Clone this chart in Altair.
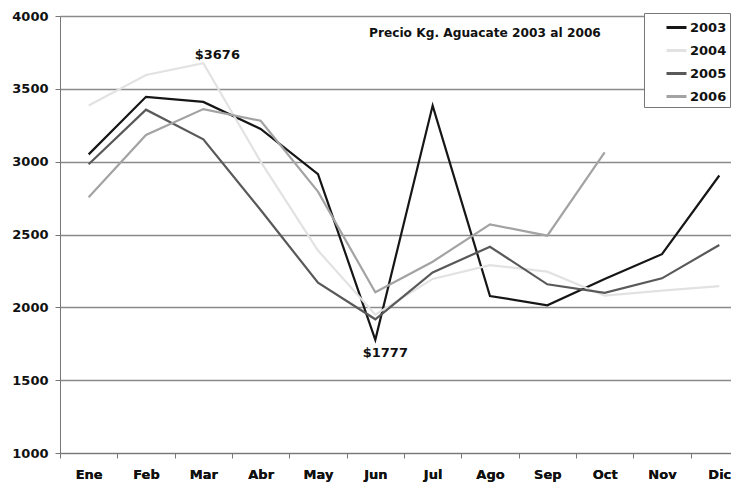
import altair as alt
import pandas as pd

months = ["Ene", "Feb", "Mar", "Abr", "May", "Jun", "Jul", "Ago", "Sep", "Oct", "Nov", "Dic"]
years = ["2003", "2004", "2005", "2006"]
v2003 = [3050, 3445, 3410, 3225, 2915, 1777, 3385, 2078, 2014, 2195, 2365, 2905]
v2004 = [3385, 3595, 3676, 3000, 2390, 1950, 2195, 2290, 2245, 2080, 2115, 2146]
v2005 = [2982, 3357, 3153, 2668, 2169, 1918, 2240, 2416, 2158, 2100, 2199, 2428]
v2006 = [2755, 3183, 3361, 3281, 2794, 2103, 2313, 2570, 2492, 3064, None, None]
colors = ["#161616", "#e2e2e2", "#595959", "#a3a3a3"]

ann_month = ["Mar", "Jun"]
ann_value = [3676, 1777]
ann_text = ["$3676", "$1777"]

rows = []
for yr, vals in zip(years, [v2003, v2004, v2005, v2006]):
    for i, (m, v) in enumerate(zip(months, vals)):
        if v is not None:
            rows.append({"Mes": m, "i": i, "Precio": v, "Año": yr})
df = pd.DataFrame(rows)
ann = pd.DataFrame({"Mes": ann_month, "i": [months.index(m) for m in ann_month],
                    "Precio": ann_value, "t": ann_text})

FONT = "DejaVu Sans"
n = len(months)
month_expr = "[" + ",".join("'%s'" % m for m in months) + "][datum.value]"

# the original plot area is cropped at the right edge, so the x domain stops short
xscale = alt.Scale(domain=[-0.5, n - 0.796], nice=False, zero=False)
yscale = alt.Scale(domain=[1000, 4000], nice=False, zero=False)

tick_axis = alt.Axis(title=None, orient="bottom", values=[k - 0.5 for k in range(n)],
                     labels=False, grid=False, tickColor="#777", tickSize=5,
                     domainColor="#777")
label_axis = alt.Axis(title=None, orient="bottom", values=list(range(n)),
                      labelExpr=month_expr, ticks=False, domain=False, grid=False,
                      labelAngle=0, labelFont=FONT, labelFontWeight="bold",
                      labelFontSize=13, labelColor="#111", labelPadding=15)
y_axis = alt.Axis(title=None, values=[1000, 1500, 2000, 2500, 3000, 3500, 4000],
                  format="d", labelFont=FONT, labelFontWeight="bold", labelFontSize=13,
                  labelColor="#111", tickColor="#777", tickSize=5,
                  domainColor="#777", gridColor="#8a8a8a", gridWidth=1.3,
                  labelPadding=7)

lines = alt.Chart(df).mark_line(strokeWidth=2.2).encode(
    x=alt.X("i:Q", scale=xscale, axis=tick_axis),
    y=alt.Y("Precio:Q", scale=yscale, axis=y_axis),
    color=alt.Color("Año:N", scale=alt.Scale(domain=years, range=colors),
                    legend=alt.Legend(title=None, orient="none", legendX=584, legendY=-3,
                                      symbolType="stroke", symbolSize=400,
                                      symbolStrokeWidth=3, symbolOffset=18,
                                      labelFont=FONT, labelFontWeight="bold",
                                      labelFontSize=13, labelColor="#111",
                                      labelExpr="datum.label + '      '",
                                      labelOffset=2, rowPadding=4, padding=3,
                                      strokeColor="#777", fillColor="white")),
)

t1 = alt.Chart(ann.iloc[[0]]).mark_text(font=FONT, fontWeight="bold", fontSize=13,
                                        color="#111", baseline="middle", dx=14, dy=-8).encode(
    x=alt.X("i:Q", scale=xscale, axis=label_axis),
    y=alt.Y("Precio:Q", scale=yscale, axis=y_axis),
    text="t:N",
)
t2 = alt.Chart(ann.iloc[[1]]).mark_text(font=FONT, fontWeight="bold", fontSize=13,
                                        color="#111", baseline="middle", dx=10, dy=13).encode(
    x=alt.X("i:Q", scale=xscale, axis=label_axis),
    y=alt.Y("Precio:Q", scale=yscale, axis=y_axis),
    text="t:N",
)

chart = alt.layer(lines, t1, t2).resolve_axis(x="independent").properties(
    width=671, height=437,
    autosize="none",
    padding={"left": 52, "top": 8, "right": 0, "bottom": 32},
    title=alt.TitleParams("Precio Kg. Aguacate 2003 al 2006", anchor="start", frame="group",
                          dx=309, dy=39, offset=0, baseline="alphabetic",
                          font=FONT, fontWeight="bold", fontSize=12.2, color="#111"),
).configure_view(stroke=None).configure(background="white")

chart.save("out.html", embed_options={"renderer": "svg", "actions": False})
